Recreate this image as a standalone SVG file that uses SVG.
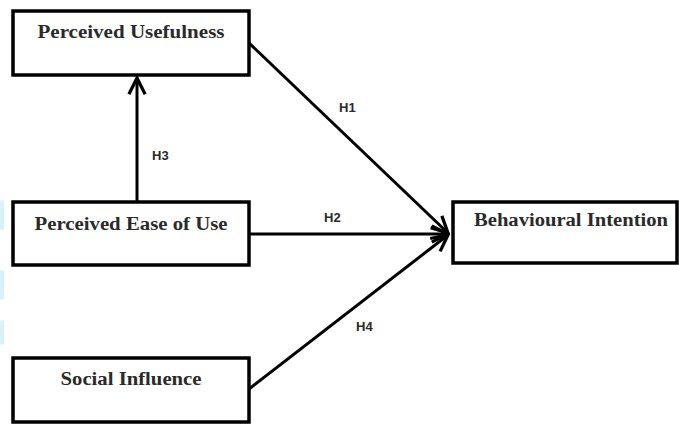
<svg xmlns="http://www.w3.org/2000/svg" width="679" height="424" viewBox="0 0 679 424">
<style>
.box{fill:#fff;stroke:#000;stroke-width:3.5}
.lbl{font-family:"Liberation Serif","DejaVu Serif",serif;font-size:18.5px;font-weight:bold;fill:#2a2a2a}
.h{font-family:"Liberation Sans",Arial,sans-serif;font-size:13px;font-weight:bold;fill:#2a2a2a}
.ln{stroke:#000;stroke-width:3;fill:none}
.blue{fill:#d9f1fb}
</style>
<defs>
<marker id="ah" viewBox="0 0 12 12" refX="11" refY="6" markerWidth="6.5" markerHeight="6.5" orient="auto" markerUnits="strokeWidth">
<path d="M1,1 L11,6 L1,11" fill="none" stroke="#000" stroke-width="2"/>
</marker>
</defs>
<rect width="679" height="424" fill="#fff"/>
<rect class="blue" x="0" y="200" width="4" height="30" rx="2"/>
<rect class="blue" x="0" y="270" width="4" height="30" rx="2"/>
<rect class="blue" x="0" y="320" width="4" height="25" rx="2"/>
<g id="connectors">
<line class="ln" x1="249" y1="43" x2="448" y2="233" marker-end="url(#ah)"/>
<line class="ln" x1="249" y1="234" x2="448" y2="234" marker-end="url(#ah)"/>
<line class="ln" x1="249" y1="389" x2="448" y2="235" marker-end="url(#ah)"/>
<line class="ln" x1="137" y1="202" x2="137" y2="78" marker-end="url(#ah)"/>
<text class="h" x="339" y="112">H1</text>
<text class="h" x="324" y="222">H2</text>
<text class="h" x="152" y="160">H3</text>
<text class="h" x="356" y="331">H4</text>
</g>
<g id="pu">
<rect class="box" x="13" y="11" width="236" height="64"/>
<text class="lbl" x="131" y="38" text-anchor="middle" textLength="187" lengthAdjust="spacingAndGlyphs">Perceived Usefulness</text>
</g>
<g id="peou">
<rect class="box" x="13" y="202" width="236" height="63"/>
<text class="lbl" x="131" y="230" text-anchor="middle" textLength="193" lengthAdjust="spacingAndGlyphs">Perceived Ease of Use</text>
</g>
<g id="si">
<rect class="box" x="13" y="358" width="236" height="64"/>
<text class="lbl" x="131" y="385" text-anchor="middle" textLength="141" lengthAdjust="spacingAndGlyphs">Social Influence</text>
</g>
<g id="bi">
<rect class="box" x="453" y="202" width="224" height="61"/>
<text class="lbl" x="571" y="226" text-anchor="middle" textLength="194" lengthAdjust="spacingAndGlyphs">Behavioural Intention</text>
</g>
</svg>
